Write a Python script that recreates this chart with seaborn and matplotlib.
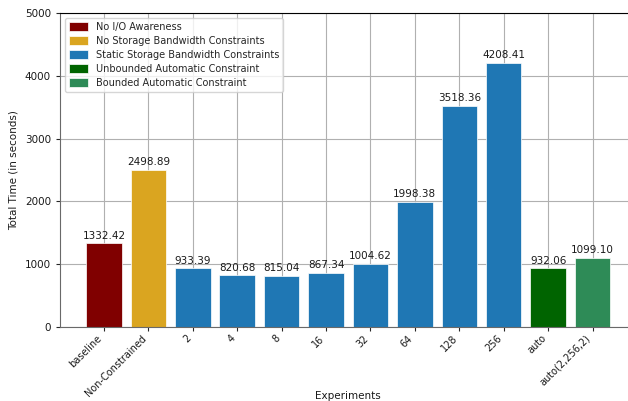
import pandas as pd
import matplotlib
matplotlib.use('Agg')
import matplotlib.pyplot as plt
import seaborn as sns

experiments = ['baseline', 'Non-Constrained', '2', '4', '8', '16', '32', '64',
               '128', '256', 'auto', 'auto(2,256,2)']
times = [1332.42, 2498.89, 933.39, 820.68, 815.04, 867.34, 1004.62, 1998.38,
         3518.36, 4208.41, 932.06, 1099.10]
groups = ['No I/O Awareness', 'No Storage Bandwidth Constraints'] + \
         ['Static Storage Bandwidth Constraints'] * 8 + \
         ['Unbounded Automatic Constraint', 'Bounded Automatic Constraint']
palette = {
    'No I/O Awareness': 'maroon',
    'No Storage Bandwidth Constraints': 'goldenrod',
    'Static Storage Bandwidth Constraints': '#1f77b4',
    'Unbounded Automatic Constraint': 'darkgreen',
    'Bounded Automatic Constraint': 'seagreen',
}

df = pd.DataFrame({'Experiments': experiments, 'Time': times, 'Group': groups})

sns.set_style('white')
plt.rcParams['font.family'] = ['DejaVu Sans']
plt.rcParams['font.size'] = 7.5

fig = plt.figure(figsize=(6.28, 4.01), dpi=100)
# axes run past the right edge of the canvas, like the cropped original
ax = fig.add_axes([60 / 628, 74 / 401, 0.918, 314 / 401])

sns.barplot(data=df, x='Experiments', y='Time', hue='Group', palette=palette,
            dodge=False, width=0.8, edgecolor='white', linewidth=0.5,
            saturation=1, ax=ax)

ax.set_axisbelow(True)
ax.grid(True, axis='both', color='#b0b0b0', linewidth=0.8)

for cont in ax.containers:
    ax.bar_label(cont, fmt='%.2f', padding=2, fontsize=7.5, color='.1')

ax.set_xlim(-0.99, 11.99)
ax.set_ylim(0, 5000)
ax.set_yticks(range(0, 5001, 1000))
ax.set_xlabel('Experiments', fontsize=7.5, color='.1')
ax.set_ylabel('Total Time (in seconds)', fontsize=7.5, color='.1')
ax.xaxis.set_label_coords(0.5, -0.204)
ax.yaxis.set_label_coords(-0.072, 0.5)
ax.tick_params(axis='y', labelsize=7.5, length=3, left=True, labelcolor='.1')
ax.tick_params(axis='x', labelsize=7, length=3, pad=1.5, bottom=True, labelcolor='.1')
plt.setp(ax.get_xticklabels(), rotation=45, ha='right')

for side in ['left', 'bottom']:
    ax.spines[side].set_color('dimgray')
ax.spines['top'].set_color('black')

ax.legend(loc='upper left', fontsize=7, frameon=True, title=None,
          handleheight=1.0, labelspacing=0.42)

fig.savefig('out.png', dpi=100)
